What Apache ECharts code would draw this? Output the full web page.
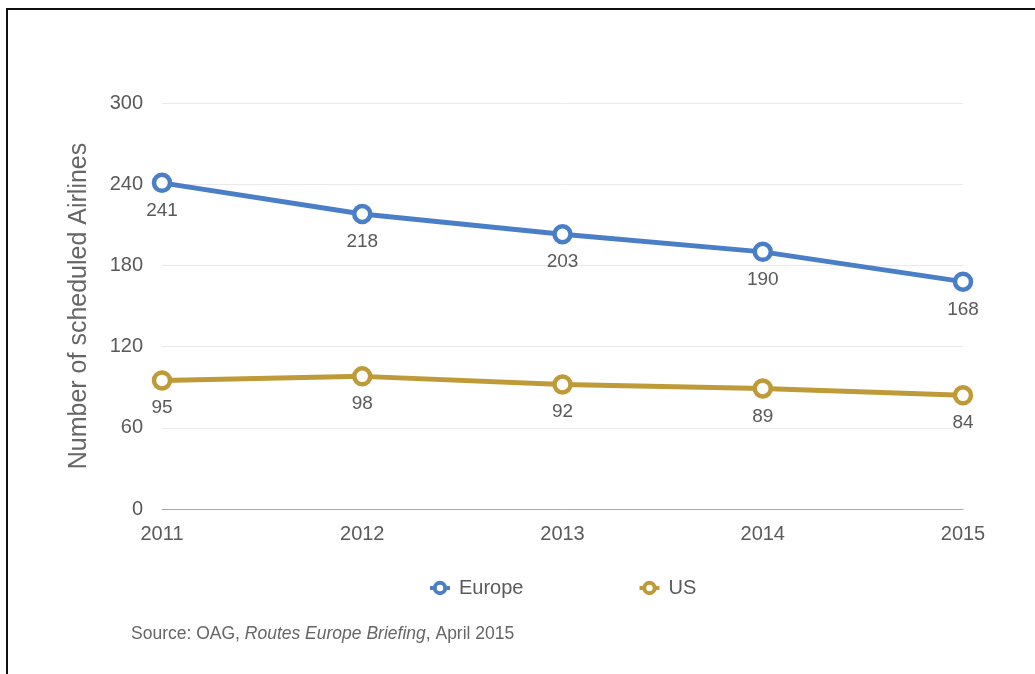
<!DOCTYPE html>
<html>
<head>
<meta charset="utf-8">
<script src="https://cdn.jsdelivr.net/npm/echarts@6/dist/echarts.min.js"></script>
<style>
  html, body { margin: 0; padding: 0; background: #fff; }
  #chart { width: 1035px; height: 674px; }
</style>
</head>
<body>
<div id="chart"></div>
<script>
// Scheduled airlines per year, Europe vs US
const years = ['2011', '2012', '2013', '2014', '2015'];
const europe = [241, 218, 203, 190, 168];
const us = [95, 98, 92, 89, 84];
const yTicks = { min: 0, max: 300, interval: 60 };

const FONT = '"Liberation Sans", "DejaVu Sans", sans-serif';
const TEXT = '#5a5a5a';
const BLUE = '#4a7fc8';
const GOLD = '#bf9a38';

const chart = echarts.init(document.getElementById('chart'), null, { renderer: 'canvas' });

function lineSeries(name, data, color) {
  return {
    name: name,
    type: 'line',
    data: data,
    symbol: 'circle',
    symbolSize: 16,
    showAllSymbol: true,
    lineStyle: { color: color, width: 5 },
    itemStyle: { color: '#fff', borderColor: color, borderWidth: 4.5 },
    label: {
      show: true,
      position: 'bottom',
      distance: 8,
      color: TEXT,
      fontSize: 19,
      fontFamily: FONT
    },
    emphasis: { disabled: true },
    z: 3
  };
}

chart.setOption({
  animation: false,
  backgroundColor: '#fff',
  grid: { left: 162, right: 72, top: 103, bottom: 165 },
  legend: {
    data: ['Europe', 'US'],
    top: 573,
    left: 423,
    itemWidth: 20,
    itemHeight: 13,
    itemGap: 114,
    itemStyle: { borderWidth: 4 },
    lineStyle: { width: 4 },
    textStyle: { color: TEXT, fontSize: 20, fontFamily: FONT, padding: [0, 0, 0, 4] }
  },
  xAxis: {
    type: 'category',
    data: years,
    boundaryGap: false,
    axisLine: { show: true, lineStyle: { color: '#aaa', width: 1 } },
    axisTick: { show: false },
    axisLabel: { color: TEXT, fontSize: 20, fontFamily: FONT, margin: 15 }
  },
  yAxis: {
    type: 'value',
    min: yTicks.min,
    max: yTicks.max,
    interval: yTicks.interval,
    name: 'Number of scheduled Airlines',
    nameLocation: 'middle',
    nameGap: 70,
    nameTextStyle: { color: '#666', fontSize: 25, fontFamily: FONT },
    axisLine: { show: false },
    axisTick: { show: false },
    axisLabel: { color: TEXT, fontSize: 20, fontFamily: FONT, margin: 19 },
    splitLine: { lineStyle: { color: '#e9e9e9', width: 1 } }
  },
  series: [
    lineSeries('Europe', europe, BLUE),
    lineSeries('US', us, GOLD)
  ],
  graphic: [
    // frame edges along the top and left
    { type: 'rect', shape: { x: 6, y: 8, width: 1029, height: 2 }, style: { fill: '#111' }, silent: true },
    { type: 'rect', shape: { x: 6, y: 8, width: 2, height: 666 }, style: { fill: '#111' }, silent: true },
    {
      type: 'text',
      left: 131,
      top: 625,
      style: {
        text: '{n|Source: OAG, }{i|Routes Europe Briefing}{n|, April 2015}',
        rich: {
          n: { fontSize: 17.5, fontFamily: FONT, fill: '#666' },
          i: { fontSize: 17.5, fontFamily: FONT, fill: '#666', fontStyle: 'italic' }
        }
      }
    }
  ]
});
</script>
</body>
</html>
